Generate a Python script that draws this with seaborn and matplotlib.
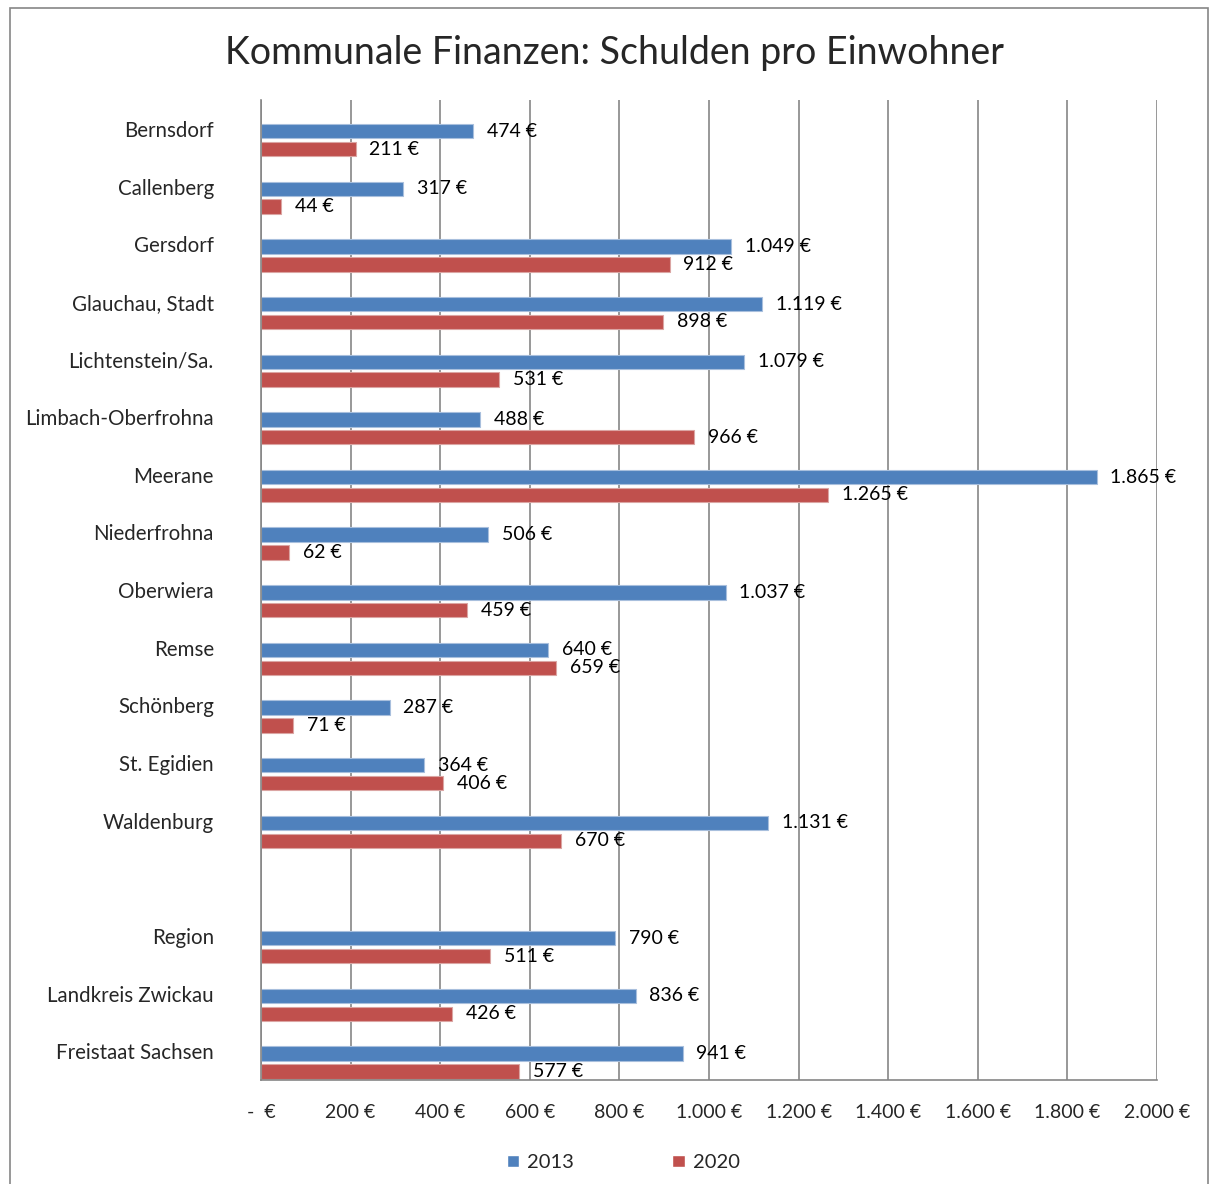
import pandas as pd
import numpy as np
import matplotlib.pyplot as plt
import seaborn as sns
from matplotlib.patches import Rectangle

gemeinden = ['Bernsdorf', 'Callenberg', 'Gersdorf', 'Glauchau, Stadt', 'Lichtenstein/Sa.',
             'Limbach-Oberfrohna', 'Meerane', 'Niederfrohna', 'Oberwiera', 'Remse',
             'Schönberg', 'St. Egidien', 'Waldenburg', ' ',
             'Region', 'Landkreis Zwickau', 'Freistaat Sachsen']
schulden_2013 = [474, 317, 1049, 1119, 1079, 488, 1865, 506, 1037, 640, 287, 364, 1131, np.nan,
                 790, 836, 941]
schulden_2020 = [211, 44, 912, 898, 531, 966, 1265, 62, 459, 659, 71, 406, 670, np.nan,
                 511, 426, 577]
x_ticks = [0, 200, 400, 600, 800, 1000, 1200, 1400, 1600, 1800, 2000]

df = pd.DataFrame({'Gemeinde': gemeinden * 2,
                   'Jahr': ['2013'] * len(gemeinden) + ['2020'] * len(gemeinden),
                   'Wert': schulden_2013 + schulden_2020})


def euro(v):
    if v == 0:
        return '-  €'
    return f'{v:,.0f}'.replace(',', '.') + ' €'


sns.set_style('white')
plt.rcParams['font.family'] = ['Lato', 'DejaVu Sans']

fig = plt.figure(figsize=(12.1, 11.84), dpi=100)
ax = fig.add_axes([0.2157, 0.0878, 0.7405, 0.8277])

sns.barplot(data=df, y='Gemeinde', x='Wert', hue='Jahr', order=gemeinden,
            palette={'2013': '#4F81BD', '2020': '#C0504D'}, saturation=1,
            width=0.62, orient='h', ax=ax, legend=True)

# Excel-artige Lage: Balkenpaar leicht unter der Kategoriemitte
offsets = {0: 0.04, 1: 0.35}
for i, cont in enumerate(ax.containers):
    for b in cont:
        yc = round(b.get_y() + b.get_height() / 2)
        b.set_height(0.25)
        b.set_y(yc + offsets[i] - 0.125)
        b.set_edgecolor('#a8bfdd' if i == 0 else '#dba5a3')
        b.set_linewidth(0.8)

for cont in ax.containers:
    ax.bar_label(cont, labels=[euro(b.get_width()) if not np.isnan(b.get_width()) else ''
                               for b in cont],
                 padding=10, fontsize=14, color='black')

ax.set_xlim(0, 2000)
ax.set_xticks(x_ticks)
ax.set_xticklabels([euro(t) for t in x_ticks], fontsize=14)
ax.set_ylim(len(gemeinden) - 0.5, -0.5)
ax.tick_params(axis='y', length=0, pad=34, labelsize=14.8)
ax.tick_params(axis='x', length=5, pad=12, color='#868686')
ax.set_xlabel('')
ax.set_ylabel('')
ax.xaxis.grid(True, color='#868686', linewidth=1.2)
ax.set_axisbelow(True)
for s in ['top', 'right']:
    ax.spines[s].set_visible(False)
for s in ['left', 'bottom']:
    ax.spines[s].set_color('#868686')
    ax.spines[s].set_linewidth(1.2)

handles, labels = ax.get_legend_handles_labels()
ax.get_legend().remove()
fig.legend(handles, labels, loc='center', bbox_to_anchor=(0.515, 0.018), ncol=2,
           frameon=False, fontsize=14.5, handlelength=0.6, handleheight=0.6,
           handletextpad=0.4, columnspacing=4.9)

fig.text(0.508, 0.955, 'Kommunale Finanzen: Schulden pro Einwohner', ha='center',
         va='center', fontsize=27)

fig.patches.append(Rectangle((0.008, -0.01), 0.99, 1.003, transform=fig.transFigure,
                             fill=False, edgecolor='#868686', linewidth=1.2))

fig.savefig('out.png', dpi=100)
